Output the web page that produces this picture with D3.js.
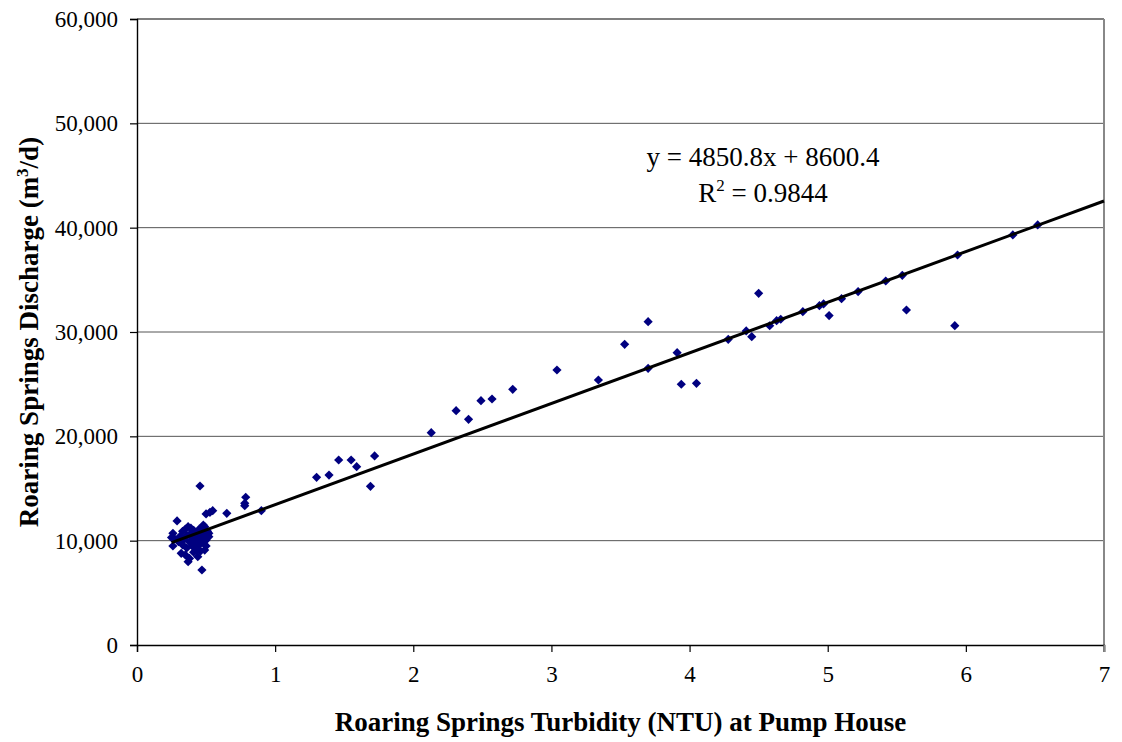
<!DOCTYPE html>
<html>
<head>
<meta charset="utf-8">
<script src="https://cdn.jsdelivr.net/npm/d3@7"></script>
<style>
  body { margin: 0; background: #fff; }
  text { font-family: "Liberation Serif", "Times New Roman", serif; fill: #000; }
</style>
</head>
<body>
<script>
// turbidity (NTU) and discharge (m3/d)
var turbidity = [
  0.25, 0.26, 0.26, 0.27, 0.29, 0.30, 0.31, 0.32, 0.33, 0.33, 0.34, 0.35, 0.35, 0.36, 0.36,
  0.37, 0.37, 0.38, 0.38, 0.39, 0.39, 0.40, 0.40, 0.41, 0.41, 0.42, 0.42, 0.43, 0.43, 0.44,
  0.44, 0.45, 0.45, 0.46, 0.46, 0.47, 0.47, 0.48, 0.48, 0.49, 0.49, 0.50, 0.50, 0.51, 0.52,
  0.52, 0.456, 0.50, 0.528, 0.548, 0.65, 0.78, 0.78, 0.787, 0.90,
  1.30, 1.39, 1.46, 1.55, 1.59, 1.69, 1.72, 2.13, 2.31, 2.40, 2.49, 2.57, 2.72,
  3.04, 3.34, 3.53, 3.70, 3.70, 3.91, 3.94, 4.05, 4.28, 4.41, 4.45, 4.50, 4.58, 4.63, 4.66,
  4.82, 4.94, 4.97, 5.01, 5.10, 5.22, 5.42, 5.54, 5.57, 5.94, 5.92, 6.34, 6.52
];
var discharge = [
  10300, 10700, 9490, 10200, 11890, 9900, 10400, 8790, 9600, 10900, 10100, 8630, 11100, 9300, 10500,
  11340, 7990, 9900, 8300, 10700, 11200, 9500, 10300, 8900, 11000, 9800, 10500, 9100, 10000, 8470,
  10800, 9600, 11100, 10300, 9000, 7190, 9800, 10600, 11500, 9100, 11340, 10060, 9500, 10900, 10380,
  10700, 15240, 12560, 12720, 12870, 12620, 13350, 13580, 14160, 12870,
  16070, 16290, 17730, 17730, 17090, 15210, 18120, 20350, 22460, 21630, 23420, 23580, 24510,
  26360, 25400, 28820, 30990, 26520, 28020, 24990, 25080, 29300, 30100, 29550, 33710, 30600, 31085, 31220,
  31950, 32520, 32690, 31570, 33190, 33870, 34890, 35430, 32110, 37380, 30610, 39300, 40260
];

var xTicks = [0, 1, 2, 3, 4, 5, 6, 7];
var yTicks = [0, 10000, 20000, 30000, 40000, 50000, 60000];

// trendline from the chart's label
var slope = 4850.8, intercept = 8600.4, rSquared = 0.9844;

var width = 1122, height = 742;
var plotLeft = 137, plotRight = 1104, plotTop = 19, plotBottom = 645;

var svg = d3.select("body").append("svg")
  .attr("width", width)
  .attr("height", height);

var x = d3.scaleLinear().domain([0, 7]).range([plotLeft, plotRight]);
var y = d3.scaleLinear().domain([0, 60000]).range([plotBottom, plotTop]);

// gridlines
svg.append("g")
  .selectAll("line")
  .data(yTicks.filter(function(d) { return d > 0 && d < 60000; }))
  .enter().append("line")
  .attr("x1", plotLeft).attr("x2", plotRight)
  .attr("y1", function(d) { return y(d); })
  .attr("y2", function(d) { return y(d); })
  .attr("stroke", "#555")
  .attr("stroke-width", 1);

// top border and right border
svg.append("line")
  .attr("x1", plotLeft).attr("x2", plotRight)
  .attr("y1", y(60000)).attr("y2", y(60000))
  .attr("stroke", "#000").attr("stroke-width", 1.2);
svg.append("line")
  .attr("x1", plotRight).attr("x2", plotRight)
  .attr("y1", plotTop).attr("y2", plotBottom + 7)
  .attr("stroke", "#888").attr("stroke-width", 2);

// axes
var fmt = d3.format(",");
var yAxis = svg.append("g")
  .attr("transform", "translate(" + plotLeft + ",0)")
  .call(d3.axisLeft(y).tickValues(yTicks).tickFormat(fmt).tickSize(7).tickPadding(12));
var xAxis = svg.append("g")
  .attr("transform", "translate(0," + plotBottom + ")")
  .call(d3.axisBottom(x).tickValues(xTicks).tickFormat(d3.format("d")).tickSize(7).tickPadding(14));

[xAxis, yAxis].forEach(function(a) {
  a.select(".domain").attr("stroke", "#000").attr("stroke-width", 1.4);
  a.selectAll(".tick line").attr("stroke", "#000").attr("stroke-width", 1.2);
  a.selectAll("text")
    .style("font-family", "'Liberation Serif', 'Times New Roman', serif")
    .style("font-size", "23px")
    .attr("fill", "#000");
});
xAxis.selectAll(".tick").filter(function(d) { return d === 7; }).select("line").attr("stroke", "#888").attr("stroke-width", 2);

// points as diamonds
var r = 4.6;
svg.append("g")
  .selectAll("path")
  .data(turbidity.map(function(t, i) { return [t, discharge[i]]; }))
  .enter().append("path")
  .attr("d", "M0," + (-r) + "L" + r + ",0L0," + r + "L" + (-r) + ",0Z")
  .attr("transform", function(d) { return "translate(" + x(d[0]) + "," + y(d[1]) + ")"; })
  .attr("fill", "#000080");

// trendline
var xMin = d3.min(turbidity);
svg.append("line")
  .attr("x1", x(xMin)).attr("y1", y(slope * xMin + intercept))
  .attr("x2", x(7)).attr("y2", y(slope * 7 + intercept))
  .attr("stroke", "#000")
  .attr("stroke-width", 3);

// equation label
svg.append("text")
  .attr("x", 763).attr("y", 166)
  .attr("text-anchor", "middle")
  .style("font-size", "27px")
  .text("y = " + slope + "x + " + intercept);
var r2 = svg.append("text")
  .attr("x", 763).attr("y", 202)
  .attr("text-anchor", "middle")
  .style("font-size", "27px");
r2.append("tspan").text("R");
r2.append("tspan").attr("dy", -11).style("font-size", "17px").text("2");
r2.append("tspan").attr("dy", 11).text(" = " + rSquared);

// axis titles
svg.append("text")
  .attr("x", (plotLeft + plotRight) / 2).attr("y", 731)
  .attr("text-anchor", "middle")
  .style("font-size", "27px")
  .style("font-weight", "bold")
  .text("Roaring Springs Turbidity (NTU) at Pump House");

var yt = svg.append("text")
  .attr("transform", "translate(38," + ((plotTop + plotBottom) / 2) + ") rotate(-90)")
  .attr("text-anchor", "middle")
  .style("font-size", "27px")
  .style("font-weight", "bold");
yt.append("tspan").text("Roaring Springs Discharge (m");
yt.append("tspan").attr("dy", -10).style("font-size", "17px").text("3");
yt.append("tspan").attr("dy", 10).text("/d)");
</script>
</body>
</html>
